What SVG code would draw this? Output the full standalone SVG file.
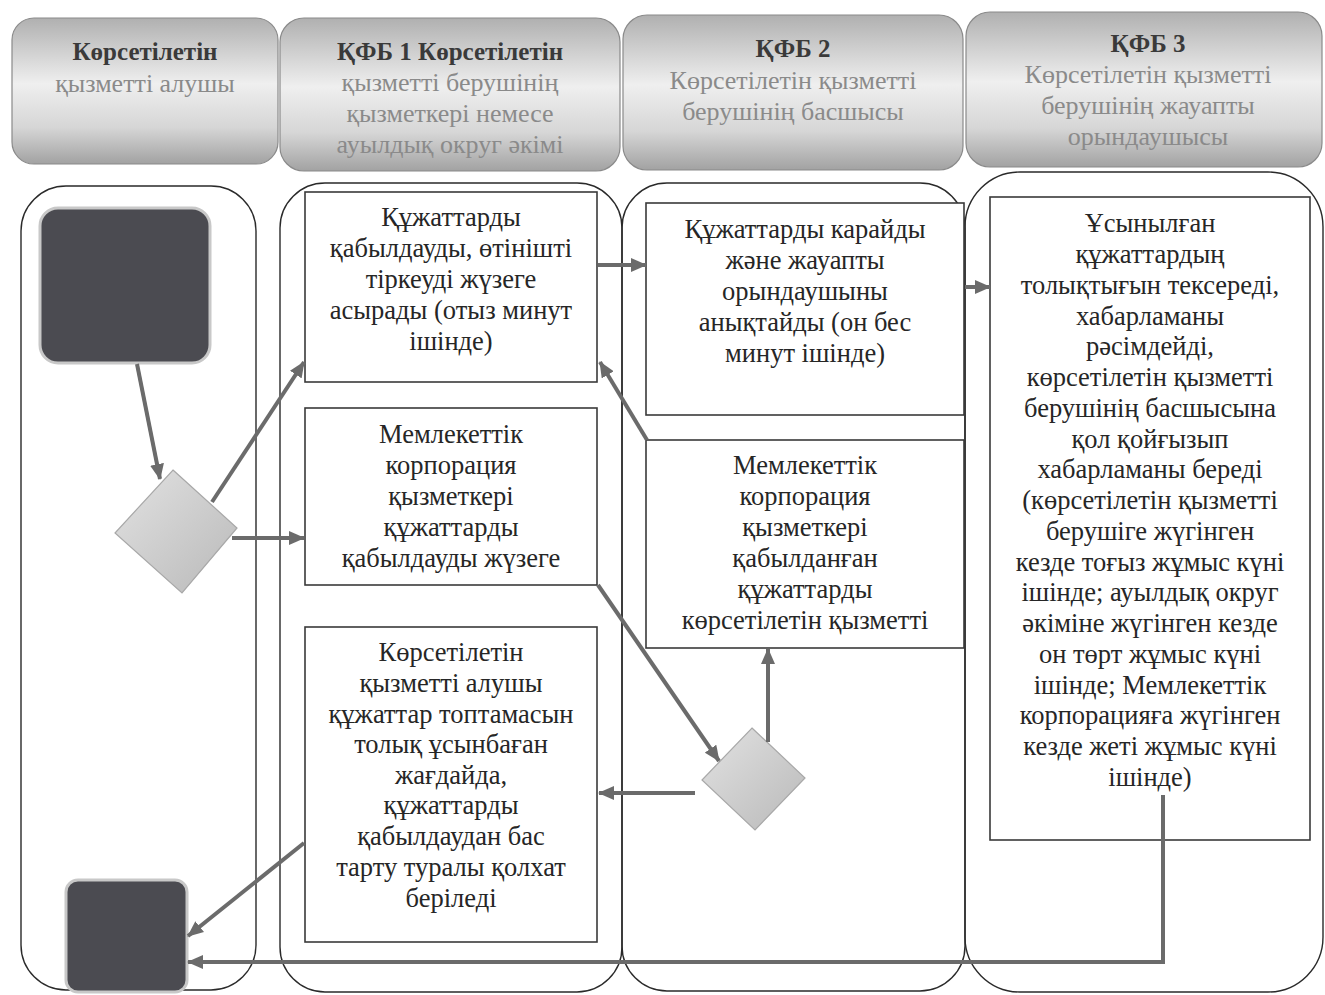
<svg xmlns="http://www.w3.org/2000/svg" width="1325" height="995" viewBox="0 0 1325 995">
<defs>
<linearGradient id="hdr" x1="0" y1="0" x2="0" y2="1">
<stop offset="0" stop-color="#b0b0b0"/>
<stop offset="0.45" stop-color="#efefef"/>
<stop offset="0.75" stop-color="#d6d6d6"/>
<stop offset="1" stop-color="#a2a2a2"/>
</linearGradient>
<linearGradient id="dia" x1="0" y1="0" x2="1" y2="1">
<stop offset="0" stop-color="#e2e2e2"/>
<stop offset="1" stop-color="#b9b9b9"/>
</linearGradient>
<marker id="ah" markerUnits="userSpaceOnUse" markerWidth="16" markerHeight="14" refX="15" refY="7" orient="auto">
<path d="M0,0 L16,7 L0,14 Z" fill="#6b6b6b"/>
</marker>
<style>
.hdr{fill:url(#hdr);stroke:#8a8a8a;stroke-width:1.2}
.lane{fill:none;stroke:#2a2a2a;stroke-width:1.4}
.box{fill:#fff;stroke:#3a3a3a;stroke-width:1.6}
.dark{fill:#4b4b51;stroke:#c8c8c8;stroke-width:3}
.dia{fill:url(#dia);stroke:#a8a8a8;stroke-width:1.2}
.c{fill:none;stroke:#6b6b6b;stroke-width:4;marker-end:url(#ah)}
text{font-family:"Liberation Serif","DejaVu Serif",serif;text-anchor:middle}
.ht{font-size:25px;font-weight:bold;fill:#3a3a3a}
.hs{font-size:26px;fill:#8a8a8a}
.t{font-size:26.5px;fill:#262626}
</style>
</defs>
<rect width="1325" height="995" fill="#fff"/>

<g id="headers">
<g id="h1"><rect class="hdr" x="12" y="18" width="266" height="146" rx="22"/>
<text x="145" y="60" class="ht">Көрсетілетін</text>
<text x="145" y="92" class="hs">қызметті алушы</text></g>
<g id="h2"><rect class="hdr" x="280" y="18" width="340" height="153" rx="24"/>
<text x="450" y="60" class="ht">ҚФБ 1 Көрсетілетін</text>
<text x="450" y="91" class="hs">қызметті берушінің</text>
<text x="450" y="122" class="hs">қызметкері немесе</text>
<text x="450" y="153" class="hs">ауылдық округ әкімі</text></g>
<g id="h3"><rect class="hdr" x="623" y="15" width="340" height="155" rx="24"/>
<text x="793" y="57" class="ht">ҚФБ 2</text>
<text x="793" y="89" class="hs">Көрсетілетін қызметті</text>
<text x="793" y="120" class="hs">берушінің басшысы</text></g>
<g id="h4"><rect class="hdr" x="966" y="12" width="356" height="155" rx="24"/>
<text x="1148" y="52" class="ht">ҚФБ 3</text>
<text x="1148" y="83" class="hs">Көрсетілетін қызметті</text>
<text x="1148" y="114" class="hs">берушінің жауапты</text>
<text x="1148" y="145" class="hs">орындаушысы</text></g>
</g>

<g id="lanes">
<rect class="lane" x="21" y="186" width="235" height="804" rx="45"/>
<rect class="lane" x="280" y="183" width="342" height="809" rx="45"/>
<rect class="lane" x="622" y="183" width="343" height="808" rx="45"/>
<rect class="lane" x="965" y="172" width="358" height="820" rx="55"/>
</g>

<g id="start"><rect class="dark" x="40" y="208" width="170" height="155" rx="18"/></g>
<g id="end"><rect class="dark" x="66" y="880" width="121" height="112" rx="12"/></g>
<g id="d1"><polygon class="dia" points="173,470 237,528 182,593 115,533"/></g>
<g id="d2"><polygon class="dia" points="752,728 805,778 755,830 702,780"/></g>

<g id="boxA"><rect class="box" x="305" y="192" width="292" height="190"/>
<text class="t"><tspan x="451" y="226">Құжаттарды</tspan><tspan x="451" y="257">қабылдауды, өтінішті</tspan><tspan x="451" y="288">тіркеуді жүзеге</tspan><tspan x="451" y="319">асырады (отыз минут</tspan><tspan x="451" y="350">ішінде)</tspan></text></g>

<g id="boxB"><rect class="box" x="305" y="408" width="292" height="177"/>
<text class="t"><tspan x="451" y="443">Мемлекеттік</tspan><tspan x="451" y="474">корпорация</tspan><tspan x="451" y="505">қызметкері</tspan><tspan x="451" y="536">құжаттарды</tspan><tspan x="451" y="567">қабылдауды жүзеге</tspan></text></g>

<g id="boxC"><rect class="box" x="305" y="627" width="292" height="315"/>
<text class="t"><tspan x="451" y="661">Көрсетілетін</tspan><tspan x="451" y="692">қызметті алушы</tspan><tspan x="451" y="723">құжаттар топтамасын</tspan><tspan x="451" y="753">толық ұсынбаған</tspan><tspan x="451" y="784">жағдайда,</tspan><tspan x="451" y="814">құжаттарды</tspan><tspan x="451" y="845">қабылдаудан бас</tspan><tspan x="451" y="876">тарту туралы қолхат</tspan><tspan x="451" y="907">беріледі</tspan></text></g>

<g id="boxD"><rect class="box" x="646" y="203" width="318" height="212"/>
<text class="t"><tspan x="805" y="238">Құжаттарды карайды</tspan><tspan x="805" y="269">және жауапты</tspan><tspan x="805" y="300">орындаушыны</tspan><tspan x="805" y="331">анықтайды (он  бес</tspan><tspan x="805" y="362">минут ішінде)</tspan></text></g>

<g id="boxE"><rect class="box" x="646" y="440" width="318" height="208"/>
<text class="t"><tspan x="805" y="474">Мемлекеттік</tspan><tspan x="805" y="505">корпорация</tspan><tspan x="805" y="536">қызметкері</tspan><tspan x="805" y="567">қабылданған</tspan><tspan x="805" y="598">құжаттарды</tspan><tspan x="805" y="629">көрсетілетін қызметті</tspan></text></g>

<g id="boxF"><rect class="box" x="990" y="197" width="320" height="643"/>
<text class="t"><tspan x="1150" y="232">Ұсынылған</tspan><tspan x="1150" y="263">құжаттардың</tspan><tspan x="1150" y="294">толықтығын тексереді,</tspan><tspan x="1150" y="325">хабарламаны</tspan><tspan x="1150" y="355">рәсімдейді,</tspan><tspan x="1150" y="386">көрсетілетін қызметті</tspan><tspan x="1150" y="417">берушінің басшысына</tspan><tspan x="1150" y="448">қол қойғызып</tspan><tspan x="1150" y="478">хабарламаны береді</tspan><tspan x="1150" y="509">(көрсетілетін қызметті</tspan><tspan x="1150" y="540">берушіге жүгінген</tspan><tspan x="1150" y="571">кезде тоғыз жұмыс күні</tspan><tspan x="1150" y="601">ішінде; ауылдық округ</tspan><tspan x="1150" y="632">әкіміне жүгінген кезде</tspan><tspan x="1150" y="663">он төрт жұмыс күні</tspan><tspan x="1150" y="694">ішінде; Мемлекеттік</tspan><tspan x="1150" y="724">корпорацияға жүгінген</tspan><tspan x="1150" y="755">кезде жеті жұмыс күні</tspan><tspan x="1150" y="786">ішінде)</tspan></text></g>

<g id="connectors">
<line class="c" x1="137" y1="364" x2="160" y2="479"/>
<line class="c" x1="212" y1="502" x2="304" y2="362"/>
<line class="c" x1="232" y1="538" x2="304" y2="538"/>
<line class="c" x1="598" y1="265" x2="646" y2="265"/>
<line class="c" x1="965" y1="287" x2="990" y2="287"/>
<line class="c" x1="647" y1="440" x2="600" y2="362"/>
<line class="c" x1="598" y1="585" x2="719" y2="761"/>
<line class="c" x1="768" y1="742" x2="768" y2="649"/>
<line class="c" x1="695" y1="793" x2="599" y2="793"/>
<line class="c" x1="304" y1="843" x2="188" y2="936"/>
<polyline class="c" points="1163,795 1163,962 188,962"/>
</g>
</svg>
